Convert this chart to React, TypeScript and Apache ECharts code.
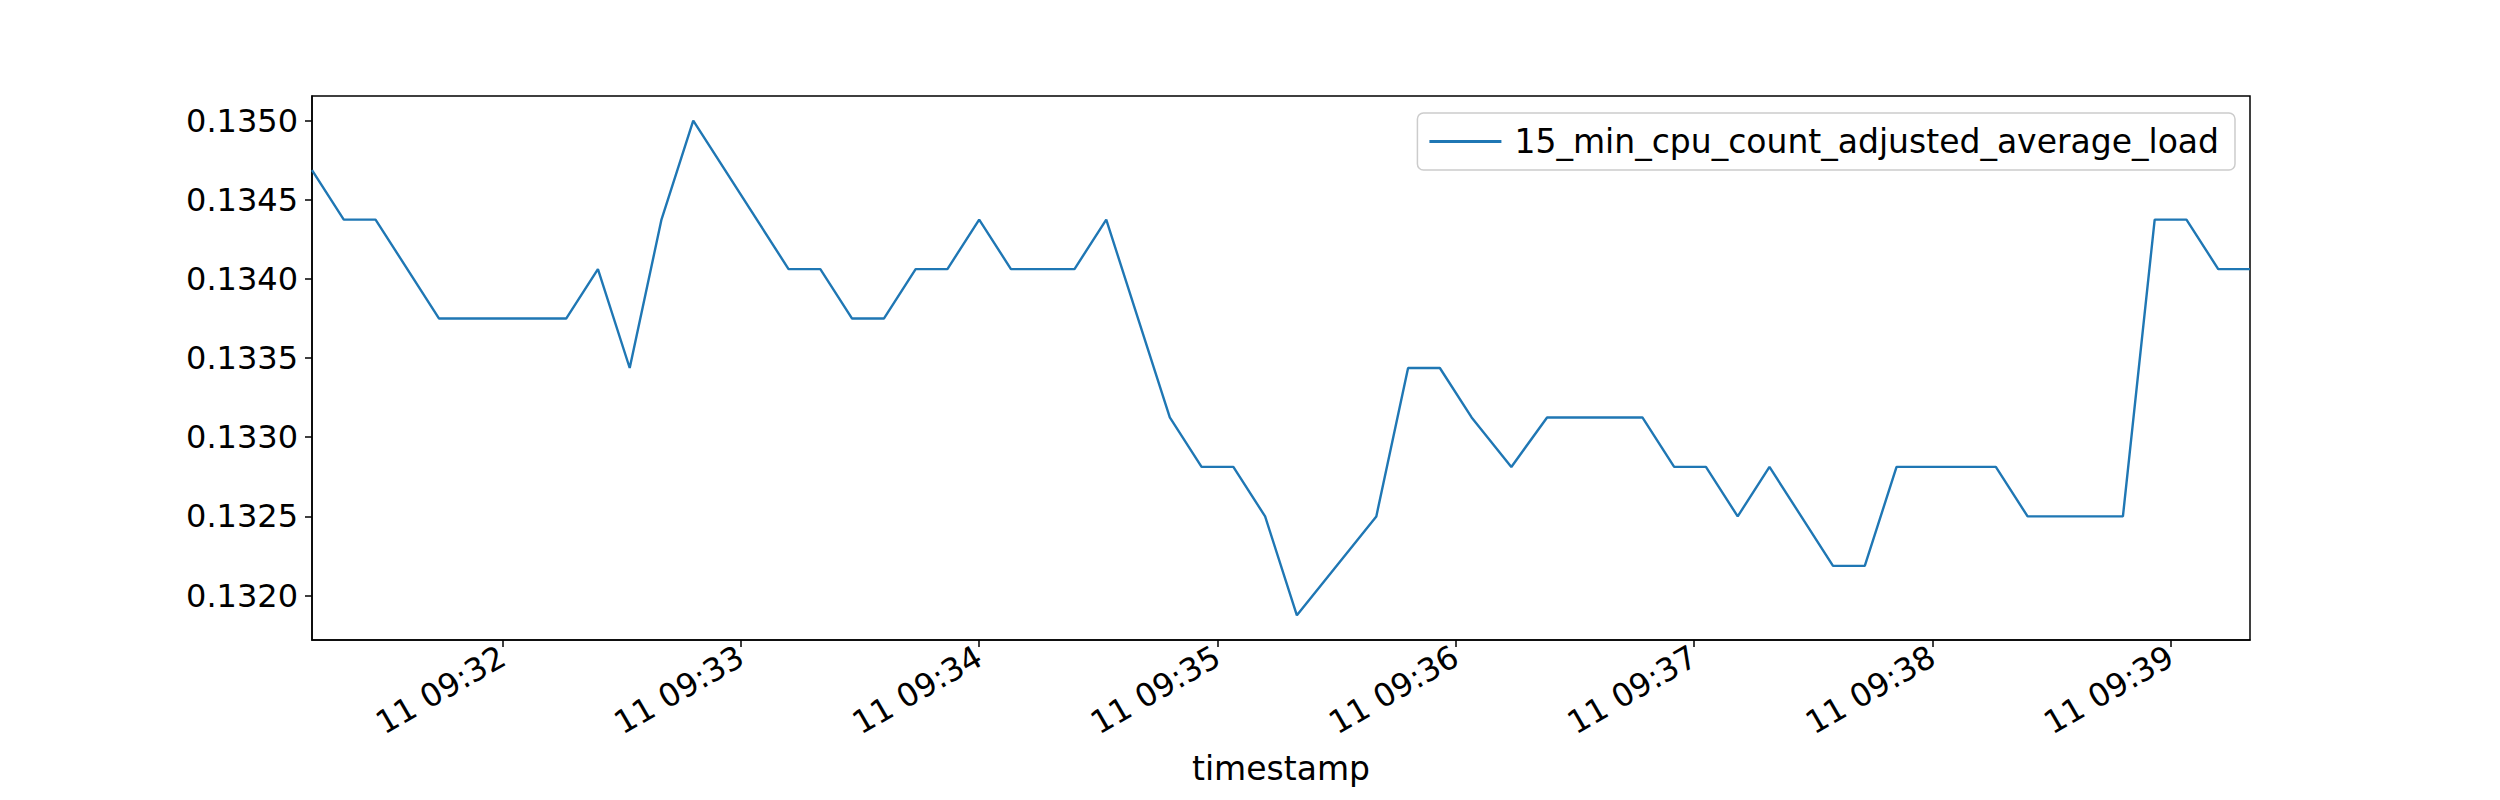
import React, { useEffect, useRef } from "react";
import * as echarts from "echarts";

// seconds after 11 09:31:00
const seconds = [
  12, 20, 28, 44, 76, 84, 92, 100, 108, 132, 140, 148, 156, 164, 172, 180, 188,
  204, 212, 228, 236, 244, 252, 260, 280, 288, 296, 304, 314, 323, 347, 355,
  363, 371, 379, 395, 403, 411, 436, 444, 468, 476, 484, 492, 500,
];
const loads = [
  0.1346875, 0.134375, 0.134375, 0.13375, 0.13375, 0.1340625, 0.1334375,
  0.134375, 0.135, 0.1340625, 0.1340625, 0.13375, 0.13375, 0.1340625,
  0.1340625, 0.134375, 0.1340625, 0.1340625, 0.134375, 0.133125, 0.1328125,
  0.1328125, 0.1325, 0.131875, 0.1325, 0.1334375, 0.1334375, 0.133125,
  0.1328125, 0.133125, 0.133125, 0.1328125, 0.1328125, 0.1325, 0.1328125,
  0.1321875, 0.1321875, 0.1328125, 0.1328125, 0.1325, 0.1325, 0.134375,
  0.134375, 0.1340625, 0.1340625,
];
const seriesName = "15_min_cpu_count_adjusted_average_load";
const yTicks = [0.132, 0.1325, 0.133, 0.1335, 0.134, 0.1345, 0.135];

const FONT = "DejaVu Sans";
const base = new Date(2020, 0, 11, 9, 31, 0).getTime();
const pad = (n: number) => String(n).padStart(2, "0");

const App: React.FC = () => {
  const ref = useRef<HTMLDivElement>(null);

  useEffect(() => {
    document.body.style.margin = "0";
    if (!ref.current) return;
    const chart = echarts.init(ref.current, null, { renderer: "svg" });
    const data = seconds.map((s, i) => [base + s * 1000, loads[i]]);
    chart.setOption({
      animation: false,
      textStyle: { fontFamily: FONT },
      grid: {
        left: 312,
        right: 250,
        top: 96,
        bottom: 160,
        show: true,
        borderColor: "#000",
        borderWidth: 1.5,
      },
      legend: {
        right: 265,
        top: 113,
        data: [seriesName],
        icon: "path://M0,0 L1,0 L1,0.04 L0,0.04 Z",
        itemWidth: 72,
        itemHeight: 3,
        itemGap: 10,
        padding: [12, 16, 12, 12],
        borderColor: "#cccccc",
        borderWidth: 1.5,
        borderRadius: 6,
        textStyle: { fontSize: 33, fontFamily: FONT, color: "#000", padding: [0, 0, 0, 8] },
      },
      xAxis: {
        type: "time",
        min: base + seconds[0] * 1000,
        max: base + seconds[seconds.length - 1] * 1000,
        splitNumber: 8,
        splitLine: { show: false },
        name: "timestamp",
        nameLocation: "middle",
        nameGap: 112,
        nameTextStyle: { fontSize: 33, fontFamily: FONT, color: "#000" },
        axisLine: { lineStyle: { color: "#000", width: 1.5 } },
        axisTick: { show: true, length: 7, inside: false, lineStyle: { color: "#000", width: 1.5 } },
        axisLabel: {
          rotate: 30,
          fontSize: 32,
          fontFamily: FONT,
          color: "#000",
          margin: 14,
          showMinLabel: false,
          showMaxLabel: false,
          formatter: (v: number) => {
            const d = new Date(v);
            return `${d.getDate()} ${pad(d.getHours())}:${pad(d.getMinutes())}`;
          },
        },
      },
      yAxis: {
        type: "value",
        min: 0.131719,
        max: 0.135156,
        splitNumber: 7,
        scale: true,
        splitLine: { show: false },
        axisLine: { show: true, lineStyle: { color: "#000", width: 1.5 } },
        axisTick: { show: true, length: 7, lineStyle: { color: "#000", width: 1.5 } },
        axisLabel: {
          fontSize: 32,
          fontFamily: FONT,
          color: "#000",
          margin: 14,
          showMinLabel: false,
          showMaxLabel: false,
          formatter: (v: number) =>
            yTicks.some((t) => Math.abs(t - v) < 1e-7) ? v.toFixed(4) : "",
        },
      },
      series: [
        {
          name: seriesName,
          type: "line",
          data,
          showSymbol: false,
          symbol: "none",
          lineStyle: { color: "#1f77b4", width: 2.4 },
          itemStyle: { color: "#1f77b4" },
        },
      ],
    });
    return () => chart.dispose();
  }, []);

  return <div ref={ref} style={{ width: 2500, height: 800 }} />;
};

export default App;
